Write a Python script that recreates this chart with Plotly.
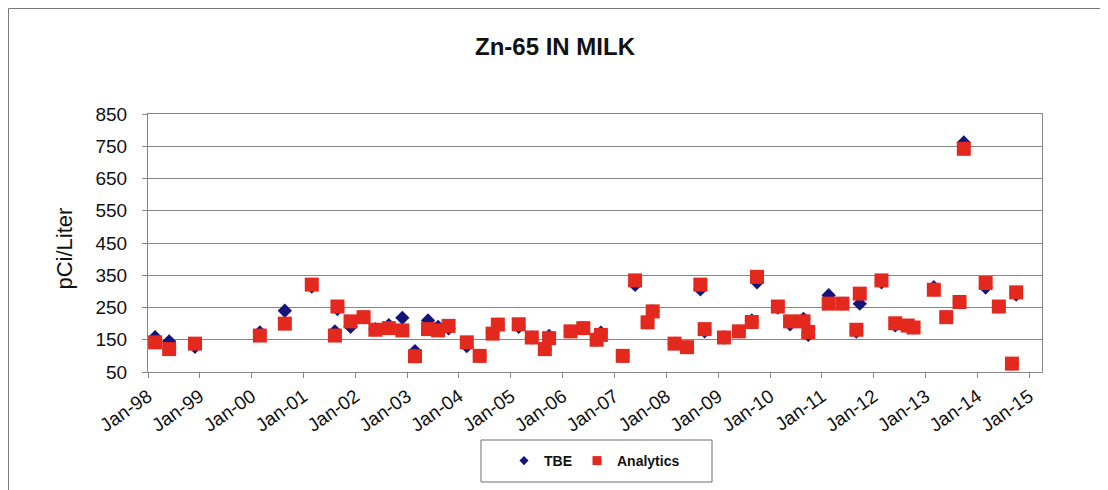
import plotly.graph_objects as go

sample_dates = [
    "1998-02-20", "1998-05-30", "1998-11-28", "2000-02-28", "2000-08-22",
    "2001-02-28", "2001-08-10", "2001-08-28", "2001-11-28", "2002-02-28",
    "2002-05-22", "2002-08-25", "2002-11-28", "2003-02-25", "2003-05-28",
    "2003-08-07", "2003-10-20", "2004-02-25", "2004-05-26", "2004-08-25",
    "2004-10-01", "2005-02-25", "2005-05-28", "2005-08-28", "2005-09-27",
    "2006-02-25", "2006-05-26", "2006-08-28", "2006-09-27", "2007-02-28",
    "2007-05-26", "2007-08-22", "2007-09-27", "2008-02-28", "2008-05-26",
    "2008-08-28", "2008-09-27", "2009-02-10", "2009-05-26", "2009-08-25",
    "2009-10-01", "2010-02-25", "2010-05-22", "2010-08-25", "2010-09-27",
    "2011-02-18", "2011-05-26", "2011-09-01", "2011-09-25", "2012-02-25",
    "2012-06-01", "2012-08-28", "2012-10-08", "2013-02-28", "2013-05-26",
    "2013-08-28", "2013-09-27", "2014-02-28", "2014-06-01", "2014-09-01",
    "2014-10-01",
]

tbe_values = [
    158, 145, 128, 173, 240,
    315, 176, 245, 190, 220,
    183, 195, 218, 115, 210,
    190, 185, 130, 100, 170,
    197, 190, 157, 120, 162,
    176, 186, 150, 172, 100,
    320, 204, 238, 138, 127,
    306, 176, 157, 176, 210,
    328, 250, 198, 215, 165,
    288, 262, 175, 262, 328,
    195, 194, 188, 313, 220,
    267, 762, 312, 253, 76,
    290,
]

analytics_values = [
    142, 121, 138, 163, 200,
    321, 163, 253, 207, 220,
    181, 186, 179, 99, 183,
    179, 193, 142, 100, 169,
    197, 198, 157, 121, 155,
    176, 186, 150, 165, 100,
    334, 204, 238, 138, 127,
    321, 183, 157, 176, 205,
    345, 253, 207, 207, 174,
    262, 262, 181, 293, 334,
    201, 194, 188, 305, 220,
    267, 742, 326, 253, 76,
    297,
]

series_names = ["TBE", "Analytics"]
chart_title = "Zn-65 IN MILK"
y_title = "pCi/Liter"
y_ticks = [50, 150, 250, 350, 450, 550, 650, 750, 850]

NAVY = "#14147a"
RED = "#e3281e"
GRID = "#878787"
FONT = "Arial, 'Liberation Sans', sans-serif"

OFF = 8  # page body margin
W, H = 1100, 482
# plot area in page pixels: x 148..1042, y 114..372
L, T = 148 - OFF, 114 - OFF
R = W - (1042 - OFF)
B = H - (372 - OFF)
PW, PH = W - L - R, H - T - B


def px_x(px):
    return (px - OFF - L) / PW


def px_y(py):
    return (H - B - (py - OFF)) / PH


fig = go.Figure()

fig.add_trace(go.Scatter(
    x=sample_dates, y=tbe_values, mode="markers", name=series_names[0],
    marker=dict(symbol="diamond", size=11, color=NAVY, line=dict(width=0)),
    showlegend=False,
))
fig.add_trace(go.Scatter(
    x=sample_dates, y=analytics_values, mode="markers", name=series_names[1],
    marker=dict(symbol="square", size=14, color=RED, line=dict(width=0)),
    showlegend=False,
))
# legend-only entries with the small legend symbols
fig.add_trace(go.Scatter(
    x=[None], y=[None], mode="markers", name=series_names[0],
    marker=dict(symbol="diamond", size=7, color=NAVY),
))
fig.add_trace(go.Scatter(
    x=[None], y=[None], mode="markers", name=series_names[1],
    marker=dict(symbol="square", size=9, color=RED),
))

fig.update_layout(
    width=W, height=H,
    margin=dict(l=L, r=R, t=T, b=B),
    paper_bgcolor="white", plot_bgcolor="white",
    font=dict(family=FONT, color="#111111"),
    title=dict(text="<b>" + chart_title + "</b>", x=(555 - OFF) / W, xref="container",
               y=1 - (47 - OFF) / H, yref="container", xanchor="center", yanchor="middle",
               font=dict(size=24, family=FONT, color="#111111")),
    showlegend=True,
    legend=dict(orientation="h", x=px_x(504), y=px_y(461), xanchor="left", yanchor="middle",
                font=dict(size=14, family=FONT, color="#111111", weight="bold"),
                bgcolor="rgba(0,0,0,0)", borderwidth=0, itemwidth=30,
                tracegroupgap=0),
    xaxis=dict(
        type="date", range=["1998-01-01", "2015-04-01"],
        tick0="1998-01-01", dtick="M12", tickformat="%b-%y",
        tickangle=-35, tickfont=dict(size=19, family=FONT),
        ticks="outside", ticklen=5, tickcolor=GRID,
        showgrid=False, showline=True, linecolor=GRID, linewidth=1, mirror=True,
        zeroline=False,
    ),
    yaxis=dict(
        range=[50, 850], tickvals=y_ticks,
        tickfont=dict(size=19, family=FONT),
        ticks="outside", ticklen=5, tickcolor=GRID, ticklabelstandoff=11,
        showgrid=True, gridcolor=GRID, gridwidth=1,
        showline=True, linecolor=GRID, linewidth=1, mirror=True,
        zeroline=False,
    ),
    annotations=[dict(
        text=y_title, textangle=-90, xref="paper", yref="paper",
        x=px_x(63.5), y=px_y(249), xanchor="center", yanchor="middle",
        showarrow=False, font=dict(size=22, family=FONT, color="#111111"),
    )],
    shapes=[
        dict(type="rect", xref="paper", yref="paper",
             x0=px_x(8.5), x1=px_x(1120), y0=px_y(500), y1=px_y(8.5),
             line=dict(color="#7a7a7a", width=1), layer="below"),
        dict(type="rect", xref="paper", yref="paper",
             x0=px_x(481), x1=px_x(712), y0=px_y(482), y1=px_y(440),
             line=dict(color="#6e6e6e", width=1), layer="below"),
    ],
)

fig.write_html("out.html")
